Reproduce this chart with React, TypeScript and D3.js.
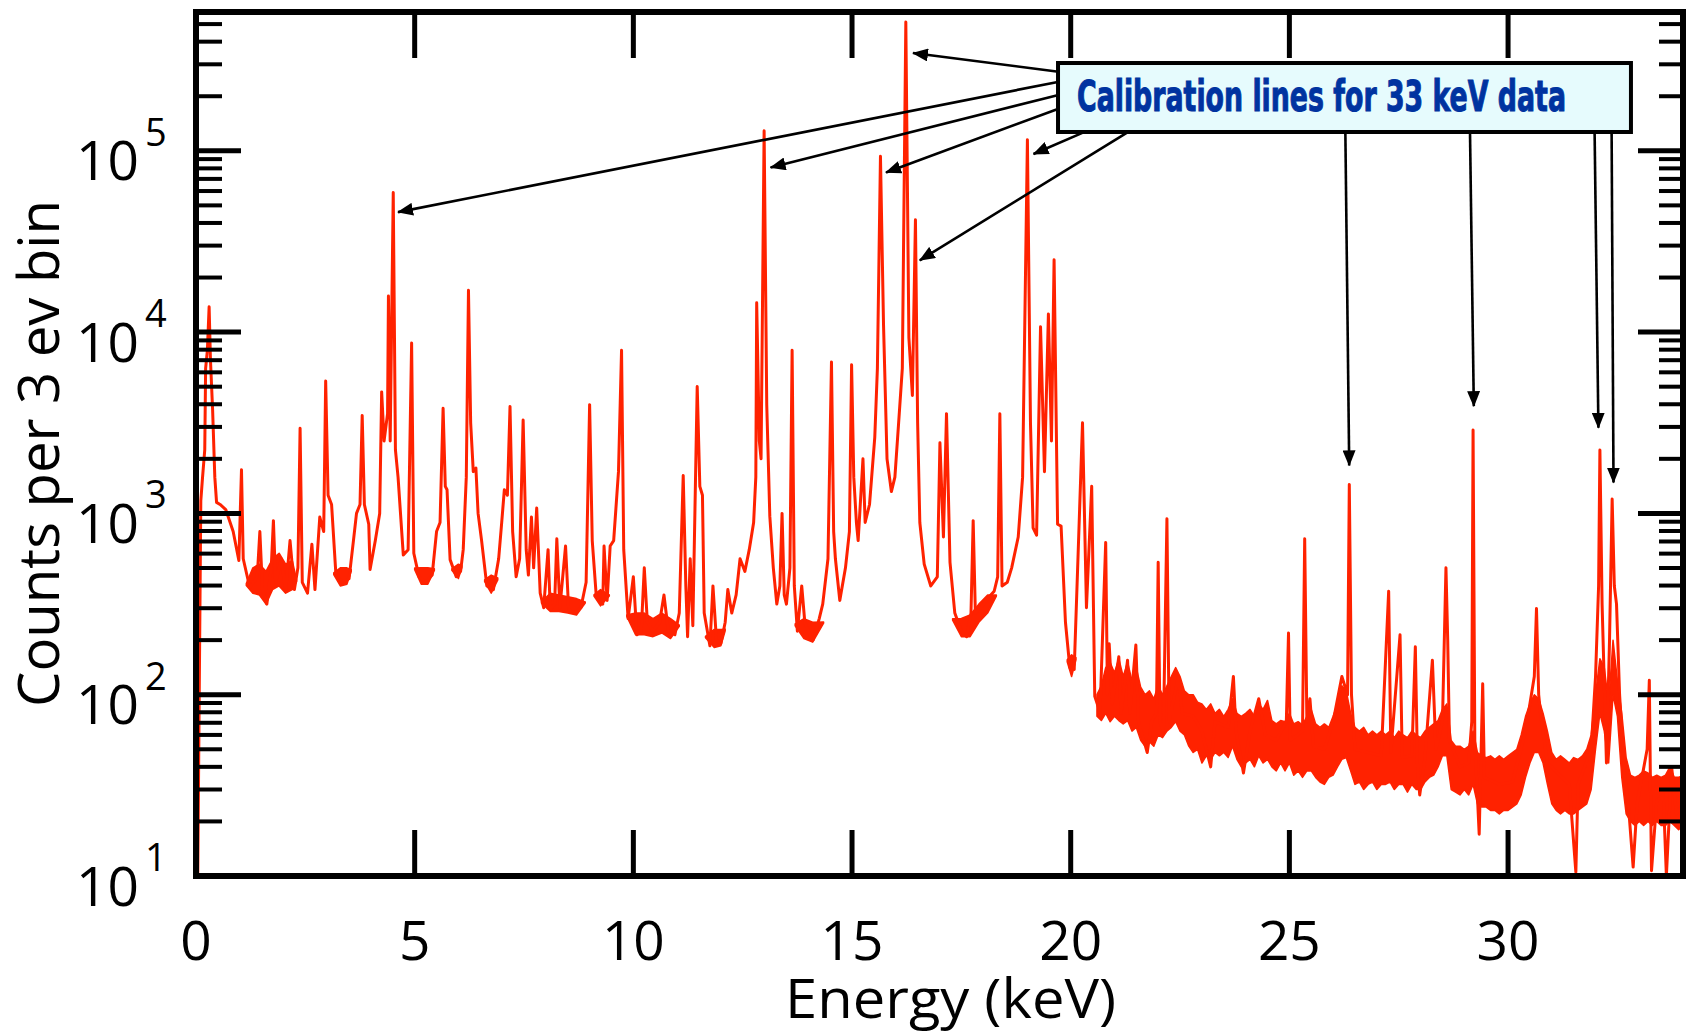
import React, { useLayoutEffect, useRef, useState } from 'react';
import * as d3 from 'd3';

// ---- spectrum trace (energy in keV, counts per 3 eV bin) ----
const energy = [
  0.00, 0.04, 0.11, 0.15, 0.20, 0.22, 0.26, 0.30, 0.33, 0.38, 0.43, 0.47, 0.55, 0.68, 0.85, 0.98,
  1.04, 1.08, 1.23, 1.40, 1.46, 1.52, 1.62, 1.72, 1.77, 1.82, 1.95, 2.05, 2.15, 2.25, 2.33, 2.38,
  2.43, 2.55, 2.65, 2.72, 2.83, 2.92, 2.965, 3.02, 3.10, 3.20, 3.35, 3.50, 3.60, 3.67, 3.75, 3.80,
  3.85, 3.95, 3.98, 4.10, 4.20, 4.245, 4.30, 4.38, 4.40, 4.44, 4.51, 4.56, 4.62, 4.74, 4.85, 4.93,
  4.98, 5.10, 5.25, 5.40, 5.50, 5.58, 5.65, 5.70, 5.74, 5.81, 5.95, 6.05, 6.11, 6.18, 6.23, 6.28,
  6.34, 6.40, 6.45, 6.53, 6.65, 6.80, 6.92, 6.99, 7.05, 7.12, 7.18, 7.24, 7.32, 7.40, 7.48, 7.55,
  7.60, 7.67, 7.72, 7.79, 7.87, 7.95, 8.05, 8.10, 8.20, 8.25, 8.32, 8.45, 8.52, 8.65, 8.80, 8.92,
  9.00, 9.06, 9.15, 9.30, 9.33, 9.40, 9.47, 9.55, 9.66, 9.73, 9.78, 9.88, 10.00, 10.08, 10.18, 10.25,
  10.32, 10.45, 10.60, 10.70, 10.80, 10.95, 11.05, 11.14, 11.20, 11.24, 11.30, 11.36, 11.46, 11.52, 11.58, 11.62,
  11.75, 11.82, 11.90, 12.00, 12.10, 12.16, 12.25, 12.35, 12.44, 12.55, 12.65, 12.75, 12.80, 12.82, 12.88, 12.92,
  12.99, 13.05, 13.12, 13.20, 13.28, 13.35, 13.40, 13.45, 13.50, 13.58, 13.63, 13.68, 13.75, 13.85, 13.92, 14.05,
  14.11, 14.25, 14.33, 14.45, 14.53, 14.58, 14.62, 14.72, 14.85, 14.94, 14.99, 15.04, 15.10, 15.14, 15.25, 15.30,
  15.40, 15.52, 15.58, 15.65, 15.72, 15.80, 15.90, 15.98, 16.06, 16.15, 16.23, 16.30, 16.38, 16.45, 16.50, 16.55,
  16.65, 16.80, 16.95, 17.01, 17.09, 17.16, 17.24, 17.35, 17.50, 17.62, 17.72, 17.77, 17.82, 17.95, 18.10, 18.25,
  18.33, 18.38, 18.43, 18.55, 18.65, 18.80, 18.90, 19.01, 19.08, 19.14, 19.22, 19.31, 19.40, 19.49, 19.56, 19.62,
  19.70, 19.78, 19.88, 19.98, 20.08, 20.17, 20.27, 20.36, 20.48, 20.55, 20.67, 20.80, 20.84, 20.88, 20.95, 21.10,
  21.15, 21.30, 21.35, 21.49, 21.55, 21.75, 21.85, 21.96, 22.00, 22.04, 22.12, 22.20, 22.25, 22.46, 22.55, 22.80,
  23.00, 23.20, 23.30, 23.60, 23.72, 23.78, 23.95, 24.10, 24.30, 24.45, 24.70, 24.93, 24.98, 25.02, 25.30, 25.35,
  25.40, 25.47, 25.55, 25.80, 26.00, 26.20, 26.33, 26.37, 26.42, 26.50, 26.80, 27.10, 27.27, 27.32, 27.53, 27.58,
  27.80, 27.88, 27.93, 27.98, 28.10, 28.27, 28.35, 28.50, 28.58, 28.62, 28.66, 28.90, 29.10, 29.17, 29.20, 29.24,
  29.34, 29.42, 29.46, 29.80, 30.10, 30.40, 30.60, 30.65, 30.70, 30.75, 30.90, 31.40, 31.55, 31.60, 31.90, 32.00,
  32.07, 32.10, 32.15, 32.25, 32.32, 32.38, 32.43, 32.48, 32.55, 32.65, 32.75, 32.86, 32.95, 33.18, 33.23, 33.26,
  33.28, 33.40, 33.55, 33.62, 33.74, 33.85, 34.00,
];
const counts = [
  19.5, 10, 1175, 1585, 2240, 6310, 7940, 13800, 7080, 3720, 1585, 1150, 1120, 1050, 794, 550,
  1740, 562, 389, 447, 794, 380, 316, 501, 912, 417, 562, 372, 708, 380, 501, 2950,
  417, 363, 676, 380, 955, 794, 5370, 1260, 1120, 457, 417, 437, 708, 1000, 1120, 3470,
  1120, 871, 490, 708, 1000, 4680, 2510, 3550, 15800, 2510, 58900, 2240, 1585, 589, 631, 8710,
  603, 447, 417, 457, 794, 891, 3800, 1410, 1350, 556, 447, 479, 631, 1585, 17000, 3160,
  1700, 1780, 1000, 708, 398, 380, 562, 891, 1350, 1260, 3890, 794, 447, 562, 3270, 631,
  457, 955, 501, 1070, 363, 302, 631, 295, 316, 724, 302, 661, 295, 282, 302, 417,
  3980, 708, 355, 316, 661, 331, 661, 708, 1700, 7940, 631, 263, 447, 214, 224, 501,
  251, 224, 251, 355, 224, 214, 282, 1620, 398, 209, 562, 240, 5010, 1410, 1260, 282,
  186, 398, 200, 191, 251, 380, 282, 355, 562, 479, 631, 891, 1585, 14500, 2510, 2000,
  129000, 3980, 966, 501, 316, 398, 1000, 355, 316, 501, 7940, 398, 224, 398, 251, 209,
  200, 263, 316, 562, 6840, 794, 562, 331, 501, 794, 6610, 1585, 891, 708, 2000, 891,
  1120, 2630, 6310, 93300, 11000, 2000, 1320, 1585, 3020, 6310, 513000, 9330, 4470, 41700, 3160, 891,
  525, 398, 447, 2450, 741, 3550, 537, 282, 224, 209, 282, 912, 282, 302, 339, 372,
  447, 3550, 398, 417, 501, 741, 1585, 115000, 3160, 832, 759, 10700, 1700, 12600, 2510, 25100,
  871, 851, 251, 141, 138, 603, 3160, 302, 1410, 98, 80, 692, 100, 191, 89, 162,
  79, 155, 79, 188, 71, 48, 71, 79, 537, 71, 63, 933, 71, 126, 79, 76,
  63, 40, 71, 66, 126, 63, 37, 63, 95, 60, 56, 71, 219, 56, 63, 724,
  71, 95, 52, 50, 71, 126, 100, 1445, 100, 50, 48, 46, 372, 48, 214, 45,
  46, 184, 40, 28, 45, 155, 50, 71, 501, 200, 56, 40, 42, 71, 2880, 56,
  17, 115, 35, 32, 33, 63, 126, 299, 100, 76, 42, 32, 10.5, 32, 50, 126,
  398, 2240, 316, 42, 200, 1200, 398, 316, 100, 40, 25, 11.2, 25, 50, 120, 25,
  10.7, 26, 28, 10, 40, 22, 25,
];

// ---- fuzz of the low-energy continuum (separate stretches, null = gap) ----
const fuzzEnergy = [
  1.15, 1.30, 1.45, 1.60, 1.75, 1.90, 2.05, 2.20, 2.30, null,
  3.15, 3.30, 3.45, 3.55, null,
  5.00, 5.15, 5.30, 5.45, null,
  5.85, 6.00, 6.08, null,
  6.60, 6.75, 6.90, null,
  7.90, 8.10, 8.30, 8.50, 8.70, 8.90, null,
  9.10, 9.25, 9.45, null,
  9.85, 10.05, 10.25, 10.45, 10.65, 10.85, 11.05, null,
  11.65, 11.85, 12.00, 12.10, null,
  13.70, 13.90, 14.10, 14.35, null,
  17.30, 17.50, 17.70, 17.90, 18.10, 18.30, null,
  19.92, 20.02, 20.12,
];
const fuzzHigh = [
  410, 501, 525, 479, 562, 603, 525, 550, 430, null,
  470, 501, 501, 490, null,
  500, 501, 501, 495, null,
  495, 525, 515, null,
  430, 457, 440, null,
  325, 363, 355, 347, 339, 325, null,
  355, 380, 355, null,
  275, 282, 282, 263, 282, 263, 242, null,
  210, 229, 229, 230, null,
  246, 263, 251, 252, null,
  262, 263, 275, 316, 355, 355, null,
  156, 166, 160,
];
const fuzzLow = [
  400, 363, 355, 316, 380, 398, 363, 380, 420, null,
  460, 398, 407, 480, null,
  490, 407, 407, 485, null,
  485, 437, 505, null,
  420, 363, 430, null,
  320, 288, 288, 282, 275, 320, null,
  350, 309, 350, null,
  270, 214, 214, 209, 219, 204, 238, null,
  206, 182, 186, 225, null,
  240, 204, 195, 248, null,
  258, 209, 209, 251, 282, 350, null,
  152, 126, 156,
];

// ---- noise band of the high-energy continuum ----
const bandEnergy = [
  20.6, 20.7, 20.8, 20.9, 21.0, 21.1, 21.2, 21.3, 21.4, 21.5, 21.6, 21.7, 21.8, 21.9, 22.0, 22.1,
  22.2, 22.3, 22.4, 22.5, 22.6, 22.7, 22.8, 22.9, 23.0, 23.1, 23.2, 23.3, 23.4, 23.5, 23.6, 23.7,
  23.8, 23.9, 24.0, 24.1, 24.2, 24.3, 24.4, 24.5, 24.6, 24.7, 24.8, 24.9, 25.0, 25.1, 25.2, 25.3,
  25.4, 25.5, 25.6, 25.7, 25.8, 25.9, 26.0, 26.1, 26.2, 26.3, 26.4, 26.5, 26.6, 26.7, 26.8, 26.9,
  27.0, 27.1, 27.2, 27.3, 27.4, 27.5, 27.6, 27.7, 27.8, 27.9, 28.0, 28.1, 28.2, 28.3, 28.4, 28.5,
  28.6, 28.7, 28.8, 28.9, 29.0, 29.1, 29.2, 29.3, 29.4, 29.5, 29.6, 29.7, 29.8, 29.9, 30.0, 30.1,
  30.2, 30.3, 30.4, 30.5, 30.6, 30.7, 30.8, 30.9, 31.0, 31.1, 31.2, 31.3, 31.4, 31.5, 31.6, 31.7,
  31.8, 31.9, 32.0, 32.1, 32.2, 32.3, 32.4, 32.5, 32.6, 32.7, 32.8, 32.9, 33.0, 33.1, 33.2, 33.3,
  33.4, 33.5, 33.6, 33.7, 33.8, 33.9, 34.0,
];
const bandHigh = [
  100, 112, 141, 151, 132, 158, 126, 151, 120, 141, 110, 100, 105, 95, 112, 100,
  112, 126, 141, 126, 105, 100, 100, 91, 89, 83, 89, 79, 83, 76, 83, 95,
  79, 76, 79, 83, 76, 89, 83, 93, 72, 69, 72, 71, 79, 69, 71, 68,
  76, 83, 69, 66, 69, 66, 76, 89, 112, 105, 79, 66, 63, 66, 60, 63,
  60, 63, 60, 63, 58, 63, 60, 58, 63, 60, 58, 63, 66, 69, 72, 83,
  89, 56, 52, 52, 50, 52, 63, 48, 46, 45, 46, 44, 46, 44, 46, 48,
  50, 60, 76, 89, 100, 95, 79, 63, 48, 44, 46, 44, 42, 45, 44, 46,
  50, 60, 100, 158, 141, 89, 200, 120, 79, 45, 36, 35, 36, 38, 37, 35,
  36, 35, 36, 40, 35, 35, 36,
];
const bandLow = [
  76, 72, 79, 71, 76, 72, 69, 72, 63, 66, 56, 52, 55, 52, 60, 58,
  63, 66, 71, 63, 60, 52, 48, 50, 42, 46, 44, 48, 46, 48, 45, 52,
  44, 40, 42, 44, 40, 46, 42, 44, 40, 38, 42, 38, 42, 36, 38, 35,
  38, 38, 35, 33, 32, 35, 36, 40, 44, 45, 38, 32, 33, 30, 32, 33,
  30, 32, 32, 33, 30, 32, 32, 29, 32, 30, 30, 33, 35, 36, 40, 46,
  46, 30, 29, 28, 30, 28, 32, 25, 24, 24, 23, 23, 22, 23, 23, 24,
  25, 28, 35, 42, 48, 48, 42, 32, 25, 23, 22, 23, 22, 22, 23, 24,
  25, 30, 50, 79, 63, 42, 100, 76, 35, 22, 20, 19, 20, 19, 20, 19,
  20, 19, 19, 20, 19, 18, 19,
];

// ---- axes ----
const xTicks = [0, 5, 10, 15, 20, 25, 30];
const yDecades = [1, 2, 3, 4, 5];
const xTitle = 'Energy (keV)';
const yTitle = 'Counts per 3 ev bin';

// ---- callout (data coordinates) ----
const calloutText = 'Calibration lines for 33 keV data';
const calloutBoxE = [19.71, 32.81];
const calloutBoxC = [3.05e5, 1.27e5];
const arrowTailE = [19.675, 19.675, 19.675, 19.675, 20.28, 21.288, 26.28, 29.13, 31.979, 32.368];
const arrowTailC = [2.74e5, 2.39e5, 2.02e5, 1.69e5, 1.26e5, 1.26e5, 1.26e5, 1.26e5, 1.26e5, 1.26e5];
const arrowTipE = [16.394, 4.619, 13.138, 15.777, 19.149, 16.55, 26.368, 29.217, 32.066, 32.411];
const arrowTipC = [3.46e5, 4.59e4, 8.09e4, 7.6e4, 9.6e4, 2.49e4, 1840, 3907, 2965, 1479];

const FONT = '"Open Sans", "Noto Sans", "DejaVu Sans", sans-serif';

function FitText(props: { x: number; y: number; width: number; children: string; [k: string]: any }) {
  const { x, y, width, children, ...rest } = props;
  const ref = useRef<SVGTextElement>(null);
  const [s, setS] = useState(1);
  useLayoutEffect(() => {
    if (ref.current) {
      const w = ref.current.getComputedTextLength();
      if (w > 0) setS(width / w);
    }
  }, [width, children]);
  return (
    <text ref={ref} transform={`translate(${x},${y}) scale(${s},1)`} {...rest}>{children}</text>
  );
}

export default function App() {
  const W = 1692, H = 1034;
  const L = 196, R = 1683, T = 12, B = 876;
  const x = d3.scaleLinear().domain([0, 34]).range([L, R]);
  const y = d3.scaleLog().domain([10, 5.83e5]).range([B, T]);

  const linePath = d3.line<number>()
    .x(i => x(energy[i]))
    .y(i => y(counts[i]))(energy.map((_, i) => i)) || '';
  const bandPath = d3.area<number>()
    .x(i => x(bandEnergy[i]))
    .y0(i => y(bandLow[i]))
    .y1(i => y(bandHigh[i]))(bandEnergy.map((_, i) => i)) || '';
  const fuzzPath = d3.area<number>()
    .defined(i => fuzzEnergy[i] !== null)
    .x(i => x(fuzzEnergy[i] as number))
    .y0(i => y(fuzzLow[i] as number))
    .y1(i => y(fuzzHigh[i] as number))(fuzzEnergy.map((_, i) => i)) || '';

  const majorY = yDecades.map(k => Math.pow(10, k));
  const minorY: number[] = [];
  yDecades.forEach(k => {
    for (let m = 2; m <= 9; m++) {
      const v = m * Math.pow(10, k);
      if (v <= y.domain()[1]) minorY.push(v);
    }
  });

  const red = '#ff2200';
  const tickW = 5;

  const bx0 = x(calloutBoxE[0]), bx1 = x(calloutBoxE[1]);
  const by0 = y(calloutBoxC[0]), by1 = y(calloutBoxC[1]);

  return (
    <svg width={W} height={H} viewBox={`0 0 ${W} ${H}`}
      style={{ position: 'absolute', left: 0, top: 0, background: '#fff', display: 'block' }}>
      <defs>
        <clipPath id="plotClip">
          <rect x={L} y={T} width={R - L} height={B - T} />
        </clipPath>
        <marker id="arrowHead" viewBox="0 0 16 13" refX="15" refY="6.5"
          markerWidth="16" markerHeight="13" markerUnits="userSpaceOnUse" orient="auto">
          <path d="M0,0 L16,6.5 L0,13 Z" fill="#000" />
        </marker>
      </defs>
      <rect x={0} y={0} width={W} height={H} fill="#fff" />

      {/* data */}
      <g clipPath="url(#plotClip)">
        <path d={fuzzPath} fill={red} stroke={red} strokeWidth={1.5} strokeLinejoin="round" />
        <path d={bandPath} fill={red} stroke={red} strokeWidth={1.5} strokeLinejoin="round" />
        <path d={linePath} fill="none" stroke={red} strokeWidth={3} strokeLinejoin="round" />
      </g>

      {/* ticks */}
      <g stroke="#000" strokeWidth={tickW}>
        {majorY.map(v => (
          <g key={'M' + v}>
            <line x1={L} x2={L + 45} y1={y(v)} y2={y(v)} />
            <line x1={R} x2={R - 45} y1={y(v)} y2={y(v)} />
          </g>
        ))}
        {minorY.map(v => (
          <g key={'m' + v}>
            <line x1={L} x2={L + 26} y1={y(v)} y2={y(v)} strokeWidth={4} />
            <line x1={R} x2={R - 24} y1={y(v)} y2={y(v)} strokeWidth={4} />
          </g>
        ))}
        {xTicks.map(t => (
          <g key={'x' + t}>
            <line x1={x(t)} x2={x(t)} y1={B} y2={B - 46} />
            <line x1={x(t)} x2={x(t)} y1={T} y2={T + 46} />
          </g>
        ))}
      </g>

      {/* frame */}
      <rect x={L} y={T} width={R - L} height={B - T} fill="none" stroke="#000" strokeWidth={6} />

      {/* tick labels */}
      <g fontFamily={FONT} fill="#000">
        {xTicks.map(t => (
          <text key={'xl' + t} x={x(t)} y={960} fontSize={55} textAnchor="middle">{t}</text>
        ))}
        {yDecades.map(k => (
          <g key={'yl' + k}>
            <text x={139} y={y(Math.pow(10, k)) + 29.5} fontSize={55} textAnchor="end">10</text>
            <text x={145} y={y(Math.pow(10, k)) - 5} fontSize={38} textAnchor="start">{k}</text>
          </g>
        ))}
      </g>

      {/* axis titles */}
      <text x={950.5} y={1018} fontFamily={FONT} fontSize={54} textAnchor="middle"
        textLength={331} lengthAdjust="spacingAndGlyphs">{xTitle}</text>
      <text transform="translate(59,453.5) rotate(-90)" fontFamily={FONT} fontSize={56}
        textAnchor="middle" textLength={507} lengthAdjust="spacingAndGlyphs">{yTitle}</text>

      {/* arrows */}
      <g stroke="#000" strokeWidth={2.6}>
        {arrowTipE.map((e, i) => (
          <line key={'a' + i} x1={x(arrowTailE[i])} y1={y(arrowTailC[i])}
            x2={x(e)} y2={y(arrowTipC[i])} markerEnd="url(#arrowHead)" />
        ))}
      </g>

      {/* callout box */}
      <rect x={bx0} y={by0} width={bx1 - bx0} height={by1 - by0} fill="#e6fbfd" stroke="#000" strokeWidth={4} />
      <FitText x={bx0 + 19} y={by0 + 48} width={489} fill="#0033a0" stroke="#0033a0" strokeWidth={1}
        fontFamily='"Liberation Sans Narrow", "DejaVu Sans Condensed", "Roboto", sans-serif'
        fontWeight={700} fontSize={42}>{calloutText}</FitText>
    </svg>
  );
}
